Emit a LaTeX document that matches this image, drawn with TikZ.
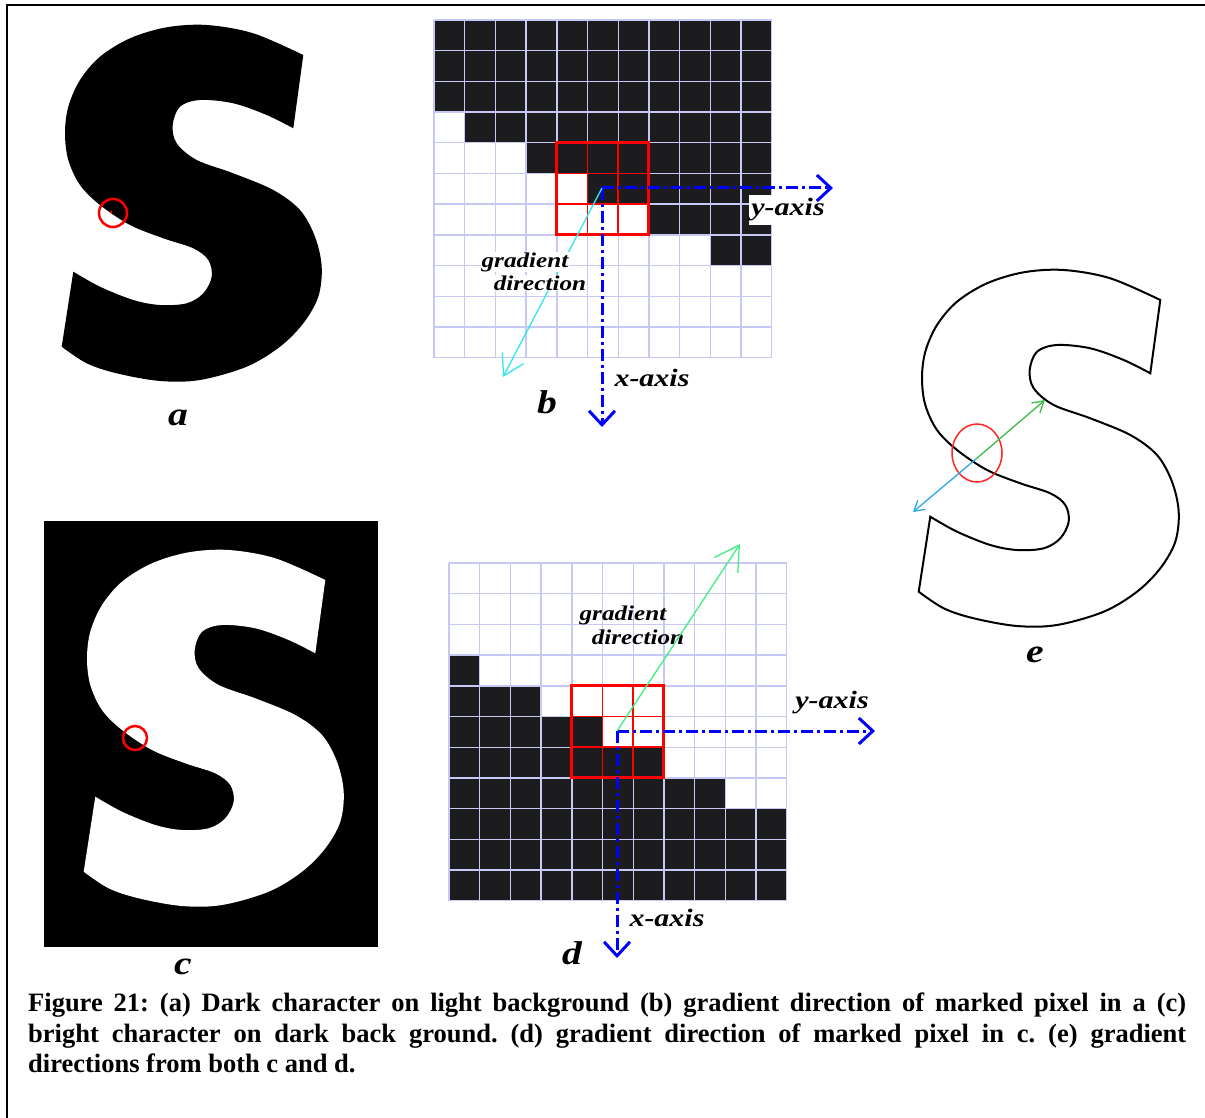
\documentclass[tikz,border=0pt]{standalone}
\usepackage{fontspec}
\setmainfont{Liberation Serif}
\newfontfamily\lblfont{Liberation Serif}[FakeStretch=1.2]
\usetikzlibrary{arrows.meta}
\frenchspacing
\definecolor{cellblack}{HTML}{1C1C1E}
\definecolor{gridcol}{HTML}{C8C8F4}
\definecolor{axisblue}{HTML}{0000FF}
\definecolor{gradcyan}{HTML}{30E8F0}
\definecolor{gradgreen}{HTML}{40F080}
\definecolor{egreen}{HTML}{3DBB4A}
\definecolor{ecyan}{HTML}{2AA8E8}
\definecolor{mred}{HTML}{FF0000}
\tikzset{
  axisarrow/.style={axisblue, line width=3pt, dash pattern=on 12pt off 4pt on 3pt off 4pt,
    -{Straight Barb[length=14pt,width=26pt]}},
  gradarrowb/.style={gradcyan, line width=1.3pt, -{Straight Barb[length=20pt,width=24pt]}},
  gradarrowd/.style={gradgreen, line width=1.3pt, -{Straight Barb[length=24pt,width=28pt]}},
  earrowg/.style={egreen, line width=1.3pt, -{Straight Barb[length=11pt,width=13pt]}},
  earrowc/.style={ecyan, line width=1.3pt, -{Straight Barb[length=10pt,width=12pt]}},
  gridline/.style={gridcol, line width=1.4pt},
  redthin/.style={mred, line width=1.5pt},
  redbox/.style={mred, line width=3pt},
  lbl/.style={font=\lblfont\bfseries\itshape\fontsize{21}{23}\selectfont, inner sep=0.5pt},
  axlbl/.style={font=\lblfont\bfseries\itshape\fontsize{25}{27}\selectfont, inner sep=1pt},
  panel/.style={font=\lblfont\bfseries\itshape\fontsize{33}{35}\selectfont, inner sep=0pt},
  marker/.style={mred, line width=2.5pt},
}
\newcommand{\Sletter}[1]{%
  \path[#1] (303.3,55)
    -- plot[smooth, tension=0.55] coordinates {(293.3,128.3) (266.7,115) (233.3,103.3) (200,100)
      (180,106.7) (172.7,125) (176.7,143.3) (196.7,160) (233.3,173.3) (273.3,190) (300,210)
      (315,236.7) (321.7,266.7) (318.3,296.7) (303.3,323.3) (280,346.7) (246.7,366.7) (200,380)
      (160,381) (116.7,373.3) (86.7,363.3) (61.7,346.7)}
    -- plot[smooth, tension=0.55] coordinates {(73.3,271.7) (100,286.7) (133.3,300) (160,305)
      (186.7,303.3) (203.3,293.3) (211.7,276.7) (208.3,260) (193.3,248.3) (163.3,238.3) (130,225)
      (100,205) (80,185) (68.3,160) (65,133.3) (68.3,106.7) (80,80) (100,56.7) (130,38.3)
      (166.7,27.3) (206.7,25) (253.3,33.3) (303.3,55)}
    -- cycle;}
\newcommand{\cellgrid}{%
  \foreach \i in {0,...,11} {
    \draw[gridline] ({\i*30.7},0) -- ({\i*30.7},337.7);
    \draw[gridline] (0,{\i*30.7}) -- (337.7,{\i*30.7});
  }
  \foreach \i in {5,6} {
    \draw[redthin] ({\i*30.7},122.8) -- ({\i*30.7},214.9);
    \draw[redthin] (122.8,{\i*30.7}) -- (214.9,{\i*30.7});
  }
  \draw[redbox] (122.8,122.8) rectangle (214.9,214.9);
}
\begin{document}
\begin{tikzpicture}[x=1pt,y=-1pt]
\useasboundingbox (0,0) rectangle (1205,1118);
\fill[white] (0,0) rectangle (1205,1118);
\draw[line width=2pt] (7,1118) -- (7,5) -- (1205,5);

% ---- panel a
\Sletter{fill=black}
\draw[marker] (113,213) circle[radius=14];
\fill[mred] (111,212) circle[radius=1.5];
\node[panel] (la) at (178,418) {a};

% ---- panel c
\fill[black] (44,521) rectangle (378,947);
\begin{scope}[shift={(22,525)}]
  \Sletter{fill=white}
\end{scope}
\draw[marker] (135,738) circle[radius=12];
\node[panel] (lc) at (183,967) {c};

% ---- panel e
\begin{scope}[shift={(857,245)}]
  \Sletter{draw=black, line width=2pt}
\end{scope}
\draw[mred!85!white, line width=1.5pt] (977,453) ellipse[x radius=25, y radius=29];
\coordinate (eO) at (976,459);
\coordinate (eG) at (1045,400);
\coordinate (eC) at (913,512);
\draw[earrowg] (eO) -- (eG);
\draw[earrowc] (eO) -- (eC);
\node[panel] (le) at (1035,655) {e};

% ---- panel b
\begin{scope}[shift={(434,20)}]
  \foreach \r/\a/\b in {0/0/11,1/0/11,2/0/11,3/1/11,4/3/11,5/5/11,6/7/11,7/9/11}
    \fill[cellblack] ({\a*30.7},{\r*30.7}) rectangle ({\b*30.7},{\r*30.7+30.7});
  \cellgrid
\end{scope}
\node[axlbl, fill=white, minimum width=79pt, minimum height=30pt] (byl) at (788,210) {y-axis};
\coordinate (bO) at (602,188);
\coordinate (bY) at (833,188);
\coordinate (bX) at (602,427);
\coordinate (bG) at (503,377);
\draw[axisarrow] (bO) -- (bY);
\draw[axisarrow] (bO) -- (bX);
\draw[gradarrowb] (bO) -- (bG);
\node[lbl, fill=white] (bg1) at (525,262) {gradient};
\node[lbl, fill=white] (bg2) at (540,283) {direction};
\node[axlbl] (bxl) at (652,378) {x-axis};
\node[panel] (lb) at (547,402) {b};

% ---- panel d
\begin{scope}[shift={(449,563)}]
  \foreach \r/\a/\b in {3/0/1,4/0/3,5/0/5,6/0/7,7/0/9,8/0/11,9/0/11,10/0/11}
    \fill[cellblack] ({\a*30.7},{\r*30.7}) rectangle ({\b*30.7},{\r*30.7+30.7});
  \cellgrid
\end{scope}
\node[lbl] (dg1) at (623,615) {gradient};
\node[lbl] (dg2) at (638,637) {direction};
\coordinate (dO) at (617,731);
\coordinate (dY) at (875,731);
\coordinate (dX) at (617,958);
\coordinate (dG) at (740,544);
\draw[axisarrow] (dO) -- (dY);
\draw[axisarrow] (dO) -- (dX);
\draw[gradarrowd] (dO) -- (dG);
\node[axlbl] (dyl) at (832,703) {y-axis};
\node[axlbl] (dxl) at (667,918) {x-axis};
\node[panel] (ld) at (572,953) {d};

% ---- caption
\node[anchor=north west, inner sep=0pt, text width=1158pt, align=justify,
      font=\bfseries\fontsize{26.5}{30.5}\selectfont] (cap) at (28,993)
  {Figure 21: (a) Dark character on light background (b) gradient direction of marked pixel in a (c)\linebreak
   bright character on dark back ground. (d) gradient direction of marked pixel in c. (e) gradient\linebreak
   directions from both c and d.};
\end{tikzpicture}
\end{document}
